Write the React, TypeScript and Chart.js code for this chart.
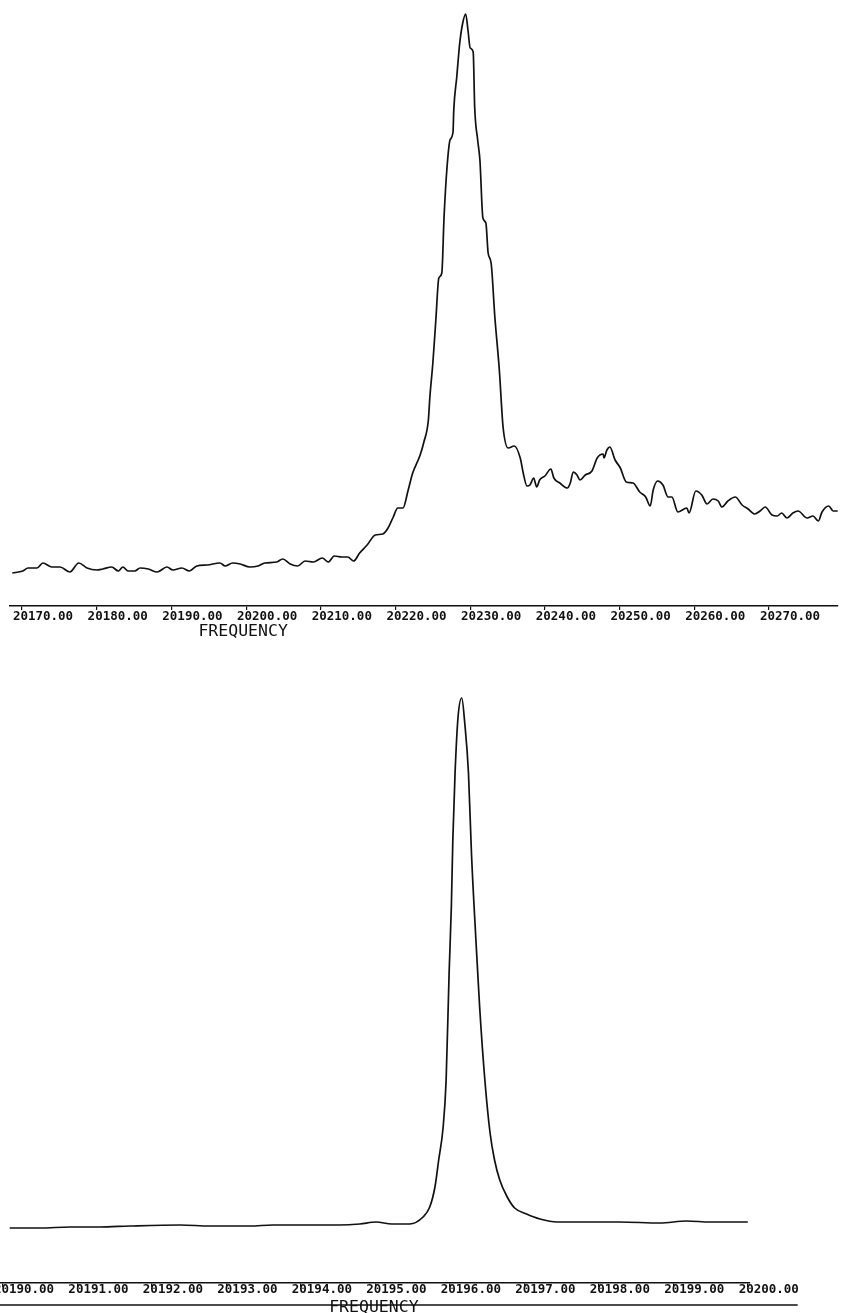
import React, { useEffect, useRef } from "react";
import { Chart, registerables } from "chart.js";

Chart.register(...registerables);

// ---------- Upper spectrum (wide scan) ----------
const topFreq = [
  20168.7, 20170.1, 20170.8, 20172.0, 20172.8, 20174.0, 20175.1, 20176.4, 20177.6, 20178.7,
  20180.0, 20180.8, 20182.0, 20182.9, 20183.5, 20184.2, 20185.1, 20185.8, 20186.9, 20188.1,
  20189.4, 20190.2, 20191.4, 20192.4, 20193.4, 20194.8, 20196.5, 20197.2, 20198.2, 20199.2,
  20200.5, 20201.6, 20202.5, 20204.1, 20204.9, 20205.9, 20206.9, 20207.9, 20209.0, 20210.2,
  20211.0, 20211.8, 20212.8, 20213.6, 20214.4, 20215.2, 20216.2, 20217.3, 20218.3, 20219.0,
  20219.7, 20220.3, 20221.0, 20221.7, 20222.3, 20223.3, 20223.8, 20224.4, 20224.6, 20225.0,
  20225.4, 20225.8, 20226.2, 20226.5, 20226.9, 20227.3, 20227.7, 20227.8, 20228.2, 20228.6,
  20229.0, 20229.4, 20229.7, 20230.0, 20230.4, 20230.6, 20231.0, 20231.3, 20231.7, 20232.1,
  20232.4, 20232.8, 20233.3, 20233.9, 20234.4, 20235.1, 20235.9, 20236.7, 20237.1, 20237.6,
  20238.0, 20238.5, 20238.9, 20239.3, 20240.0, 20240.8, 20241.2, 20242.0, 20243.0, 20243.4,
  20243.8, 20244.3, 20244.7, 20245.4, 20246.3, 20247.0, 20247.8, 20247.9, 20248.3, 20248.7,
  20249.4, 20250.1, 20250.9, 20251.8, 20252.7, 20253.5, 20254.1, 20254.5, 20255.1, 20255.8,
  20256.5, 20257.0, 20257.8, 20259.0, 20259.3, 20260.2, 20261.0, 20261.7, 20262.5, 20263.2,
  20263.7, 20264.5, 20265.5, 20266.4, 20267.2, 20268.1, 20268.8, 20269.5, 20270.4, 20271.1,
  20271.7, 20272.4, 20273.2, 20273.9, 20275.1, 20275.9, 20276.6, 20277.1, 20278.0, 20278.6,
  20279.2,
];
const topSignal = [
  33, 35, 38, 38, 43, 39, 39, 34, 43, 38,
  36, 37, 39, 35, 39, 35, 35, 38, 37, 34,
  39, 36, 38, 35, 40, 41, 43, 40, 43, 42,
  39, 40, 43, 44, 47, 42, 40, 45, 44, 48,
  44, 50, 49, 49, 45, 53, 61, 71, 72, 78,
  89, 98, 98, 116, 133, 151, 164, 186, 209, 243,
  286, 328, 333, 389, 439, 466, 474, 496, 529, 563,
  583, 592, 576, 558, 554, 499, 466, 446, 388, 383,
  353, 343, 289, 236, 179, 158, 160, 148, 133, 120,
  121, 128, 119, 126, 130, 137, 128, 123, 118, 123,
  134, 131, 126, 131, 135, 148, 152, 148, 156, 159,
  146, 138, 124, 123, 114, 109, 100, 116, 125, 121,
  109, 109, 94, 98, 93, 115, 111, 102, 107, 105,
  99, 105, 109, 101, 97, 92, 95, 99, 91, 90,
  93, 88, 93, 95, 88, 90, 85, 94, 100, 95,
  95,
];
const topTicks = [20170, 20180, 20190, 20200, 20210, 20220, 20230, 20240, 20250, 20260, 20270];

// ---------- Lower spectrum (narrow scan) ----------
const bottomFreq = [
  20190.09, 20190.5, 20190.9, 20191.3, 20191.7, 20192.38, 20192.78, 20193.32, 20193.62, 20193.99,
  20194.52, 20194.79, 20195.01, 20195.22, 20195.46, 20195.64, 20195.73, 20195.8, 20195.85, 20195.91,
  20195.95, 20195.99, 20196.02, 20196.04, 20196.07, 20196.11, 20196.16, 20196.2, 20196.25, 20196.29,
  20196.35, 20196.4, 20196.47, 20196.54, 20196.6, 20196.67, 20196.77, 20196.87, 20197.03, 20197.21,
  20197.44, 20197.74, 20198.28, 20198.82, 20199.18, 20199.49, 20199.76, 20200.0,
];
const bottomSignal = [
  55, 55, 56, 56, 57, 58, 57, 57, 58, 58,
  58, 59, 61, 59, 59, 66, 76, 96, 123, 156,
  203, 310, 376, 443, 510, 566, 585, 560, 510, 430,
  343, 276, 203, 150, 123, 103, 86, 75, 69, 64,
  61, 61, 61, 60, 62, 61, 61, 61,
];
const bottomTicks = [20190, 20191, 20192, 20193, 20194, 20195, 20196, 20197, 20198, 20199, 20200];

const axisTitle = "FREQUENCY";

const INK = "#111111";

type Spec = {
  freq: number[];
  signal: number[];
  ticks: number[];
  min: number;
  max: number;
  yMax: number;
  padding: { left: number; right: number; top: number; bottom: number };
  axisHeight: number;
  tickPad: number;
  titleAt: number;
  titleBaseline: number;
  ruleTo?: number;
  ruleY?: number;
};

function titlePlugin(id: string, spec: Spec) {
  return {
    id,
    afterDraw(chart: any) {
      const ctx = chart.ctx;
      const xs = chart.scales.x;
      ctx.save();
      if (spec.ruleTo !== undefined && spec.ruleY !== undefined) {
        ctx.strokeStyle = INK;
        ctx.lineWidth = 1.6;
        ctx.beginPath();
        ctx.moveTo(0, spec.ruleY);
        ctx.lineTo(xs.getPixelForValue(spec.ruleTo), spec.ruleY);
        ctx.stroke();
      }
      ctx.font = "16.5px 'DejaVu Sans Mono', monospace";
      ctx.fillStyle = INK;
      ctx.textAlign = "center";
      ctx.textBaseline = "alphabetic";
      ctx.fillText(axisTitle, xs.getPixelForValue(spec.titleAt), spec.titleBaseline);
      ctx.restore();
    },
  };
}

function buildConfig(spec: Spec, id: string): any {
  return {
    type: "line",
    data: {
      datasets: [
        {
          data: spec.freq.map((f, i) => ({ x: f, y: spec.signal[i] })),
          borderColor: INK,
          borderWidth: 1.7,
          pointRadius: 0,
          fill: false,
          cubicInterpolationMode: "monotone",
        },
      ],
    },
    options: {
      responsive: false,
      maintainAspectRatio: false,
      animation: false,
      devicePixelRatio: 1,
      layout: { padding: spec.padding },
      plugins: {
        legend: { display: false },
        tooltip: { enabled: false },
        title: { display: false },
      },
      scales: {
        x: {
          type: "linear",
          min: spec.min,
          max: spec.max,
          afterBuildTicks: (axis: any) => {
            axis.ticks = spec.ticks.map((v) => ({ value: v }));
          },
          afterFit: (axis: any) => {
            axis.height = spec.axisHeight;
            axis.paddingLeft = 0;
            axis.paddingRight = 0;
          },
          grid: {
            display: true,
            drawOnChartArea: false,
            drawTicks: true,
            tickLength: 4,
            color: INK,
            lineWidth: 1.2,
          },
          border: { display: true, color: INK, width: 1.6 },
          ticks: {
            autoSkip: false,
            maxRotation: 0,
            minRotation: 0,
            labelOffset: 21,
            padding: spec.tickPad,
            color: INK,
            font: { family: "'DejaVu Sans Mono', monospace", size: 12.5, weight: "bold", lineHeight: 1 },
            callback: (v: any) => Number(v).toFixed(2),
          },
        },
        y: { display: false, min: 0, max: spec.yMax },
      },
    },
    plugins: [titlePlugin(id, spec)],
  };
}

const topSpec: Spec = {
  freq: topFreq,
  signal: topSignal,
  ticks: topTicks,
  min: 20168.39,
  max: 20279.24,
  yMax: 600,
  padding: { left: 10, right: 4, top: 6, bottom: 0 },
  axisHeight: 34,
  tickPad: 0,
  titleAt: 20199.6,
  titleBaseline: 636,
};

const bottomSpec: Spec = {
  freq: bottomFreq,
  signal: bottomSignal,
  ticks: bottomTicks,
  min: 20189.96,
  max: 20200.03,
  yMax: 633,
  padding: { left: 0, right: 92, top: 10, bottom: 0 },
  axisHeight: 30,
  tickPad: -4,
  titleAt: 20194.98,
  titleBaseline: 672,
  ruleTo: 20200.67,
  ruleY: 665,
};

function SpectrumCanvas({ spec, id, height }: { spec: Spec; id: string; height: number }) {
  const ref = useRef<HTMLCanvasElement | null>(null);
  useEffect(() => {
    if (!ref.current) return;
    const chart = new Chart(ref.current, buildConfig(spec, id));
    return () => chart.destroy();
  }, [spec, id]);
  return <canvas ref={ref} width={842} height={height} style={{ display: "block", width: 842, height }} />;
}

export default function App() {
  return (
    <div style={{ position: "absolute", left: 0, top: 0, width: 842, height: 1313, background: "#ffffff" }}>
      <SpectrumCanvas spec={topSpec} id="topTitle" height={640} />
      <SpectrumCanvas spec={bottomSpec} id="bottomTitle" height={673} />
    </div>
  );
}
